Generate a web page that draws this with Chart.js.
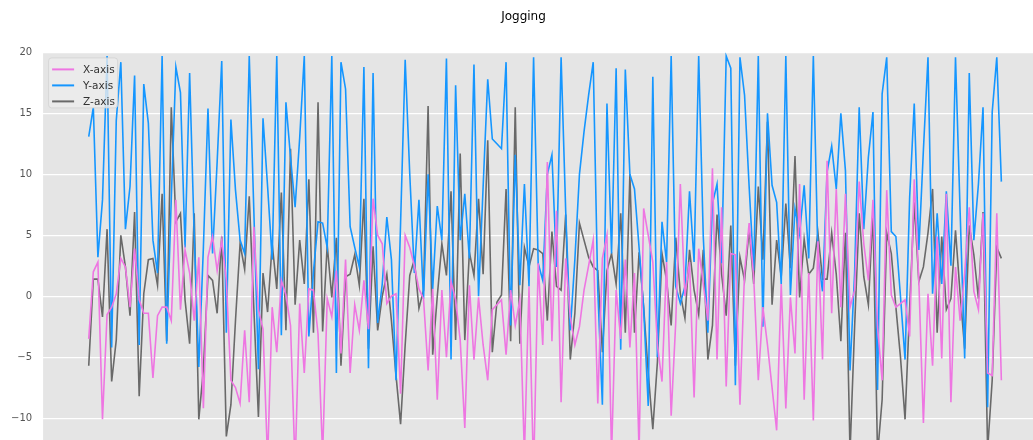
<!DOCTYPE html>
<html>
<head>
<meta charset="utf-8">
<title>Jogging</title>
<script src="https://cdn.jsdelivr.net/npm/chart.js@4.4.0/dist/chart.umd.min.js"></script>
<style>
  html, body { margin: 0; padding: 0; width: 1033px; height: 440px; overflow: hidden; background: #fff; }
  #wrap { position: relative; width: 1033px; height: 440px; overflow: hidden; }
  #wrap canvas { position: absolute; left: 0; top: 0; }
</style>
</head>
<body>
<div id="wrap"><canvas id="jogging" width="1060" height="560"></canvas></div>
<script>
// accelerometer samples, 200 readings per axis
const xAxis = [
  -3.5, 2.0, 2.8, -10.1, -1.5, -0.9, 0.2, 3.1, 2.4, -0.9,
  3.9, -0.3, -1.4, -1.4, -6.7, -1.6, -0.9, -0.9, -2.0, 7.9,
  -1.1, 3.8, 1.9, -2.0, 3.2, -9.2, 3.2, 4.9, 2.1, 4.6,
  1.3, -6.9, -7.5, -8.8, -2.8, -8.7, 5.7, -1.1, -2.7, -13.5,
  -0.9, -4.6, 1.3, 0.1, -2.4, -14.0, -0.6, -6.3, 0.6, 0.5,
  -3.1, -13.0, -0.2, -1.7, 2.1, -4.7, 3.0, -6.3, -0.7, -2.8,
  1.3, -2.7, 8.0, 5.0, 4.3, -0.6, 0.0, 0.2, -8.0, 5.0,
  4.0, 2.5, 0.6, -0.2, -6.1, 0.6, -8.5, 0.5, -5.0, 1.2,
  -0.3, -3.6, -10.8, 0.9, -5.2, -0.1, -4.0, -6.9, -1.1, -0.7,
  -0.3, -4.8, 0.5, -2.4, -0.3, -13.0, 0.8, -14.5, 2.7, -4.0,
  11.0, -3.7, 7.0, -8.7, 3.1, -1.7, -4.0, -2.5, 0.5, 2.5,
  4.6, -8.8, 3.1, 5.0, -13.0, 0.5, -3.5, 3.0, -4.2, 1.9,
  -12.8, 7.2, 5.0, 2.8, -4.0, -7.0, 2.8, -9.8, -2.1, 9.2,
  0.0, 2.8, -8.3, 3.9, 1.0, -2.0, 10.5, -5.2, 7.3, -7.4,
  3.5, 3.4, -8.9, 2.0, 6.0, 1.5, -6.9, -0.9, -4.0, -7.5,
  -11.0, 1.0, -9.2, -0.1, -4.7, 9.2, -8.5, 1.9, -10.2, 4.5,
  -5.2, 11.1, -1.4, 8.8, -0.9, 8.4, -0.9, 0.5, 9.4, 4.3,
  1.3, 7.9, -2.5, -6.9, 8.7, 0.1, -0.9, -0.6, -0.3, -3.3,
  9.6, 1.3, -10.4, 0.2, -5.7, 4.9, -5.1, 8.4, -8.7, 2.4,
  -2.0, 1.9, 7.3, 0.4, -1.1, 6.8, -6.3, -6.5, 6.8, -6.9
];
const yAxis = [
  13.1, 15.5, 3.2, 7.9, 19.7, -4.2, 14.4, 19.2, 5.5, 9.0,
  18.1, -4.0, 17.4, 14.2, 4.6, 1.9, 19.7, -3.9, 8.0, 18.8,
  16.7, 4.0, 18.3, 5.0, -5.8, 4.0, 15.4, 3.5, 11.0, 19.3,
  -3.0, 14.5, 8.7, 4.6, 3.5, 19.7, 7.0, -6.0, 14.6, 9.0,
  3.0, 19.7, -3.2, 15.9, 11.4, 7.3, 13.0, 19.7, -3.3, 2.0,
  6.1, 6.0, 4.0, 19.7, -6.3, 19.2, 17.0, 5.7, 4.0, 2.4,
  18.8, -5.9, 18.3, -2.2, 1.0, 6.5, 3.0, -6.9, 6.0, 19.4,
  10.0, 1.9, 7.9, -0.2, 10.0, 0.6, 7.4, 4.6, 19.5, -5.2,
  17.3, 4.6, 8.4, 3.1, 19.0, 0.0, 9.0, 17.8, 12.9, 12.5,
  12.1, 19.2, -2.4, 11.6, 0.9, 9.2, 0.8, 19.6, 2.7, 1.3,
  10.0, 11.6, 2.4, 19.6, 7.0, -2.8, 3.0, 10.0, 13.5, 16.5,
  19.2, 0.5, -8.9, 15.8, 3.5, 18.7, -4.4, 18.6, 10.0, 8.8,
  4.0, -1.0, -9.0, 18.0, -5.0, 6.1, 2.8, 19.7, 0.8, -0.6,
  0.8, 8.6, 2.8, 19.7, 4.9, -3.0, 7.6, 9.2, 2.7, 19.7,
  18.7, -7.3, 19.6, 16.5, 9.0, 2.1, 19.7, -2.5, 15.0, 9.1,
  7.7, 1.0, 19.7, 0.1, 7.2, 5.1, 9.1, 3.1, 19.7, 3.2,
  0.4, 10.2, 12.3, 8.8, 15.0, 10.3, -6.1, 1.9, 15.5, 5.5,
  11.4, 15.1, -7.7, 16.6, 19.6, 5.3, 4.9, 0.0, -5.2, 8.1,
  15.8, 3.8, 12.0, 19.6, 0.2, 6.8, 1.0, 8.6, 2.5, 19.6,
  7.0, -5.1, 18.3, 4.6, 9.2, 15.5, -9.1, 15.1, 19.6, 9.4
];
const zAxis = [
  -5.7, 1.4, 1.4, -1.7, 5.5, -7.0, -3.6, 5.0, 2.4, -1.6,
  6.9, -8.2, 0.2, 3.0, 3.1, 0.9, 8.4, -3.7, 15.5, 6.1,
  6.8, -0.3, -3.9, 6.8, -10.1, -6.0, 1.7, 1.3, -1.4, 4.9,
  -11.5, -8.9, -2.0, 4.3, 2.2, 8.2, -1.0, -9.9, 1.9, -1.3,
  4.3, 0.6, 8.5, -2.8, 12.1, -0.7, 4.6, 1.0, 9.6, -3.0,
  15.9, -2.9, 4.2, -0.1, 4.8, -5.7, 1.6, 1.8, 3.4, 0.9,
  8.0, -4.3, 4.1, -2.8, 0.0, 1.8, -2.0, -6.5, -10.5, -4.0,
  1.7, 3.0, -1.0, 0.5, 15.6, -4.8, 0.0, 4.3, 1.7, 8.6,
  -3.6, 11.7, -3.6, 3.6, 1.7, 8.0, 1.8, 12.8, -4.6, -0.5,
  0.1, 8.8, -3.7, 15.5, -3.9, 4.0, 2.4, 3.9, 3.8, 3.5,
  -2.0, 5.3, 0.8, 0.5, 6.7, -5.2, -1.4, 6.0, 4.6, 3.2,
  2.4, 2.1, -4.6, 2.1, 3.5, 1.0, 6.8, -3.0, 10.0, -3.0,
  3.6, -0.9, -6.3, -10.9, -5.4, 3.5, 1.3, -2.4, 4.8, 0.2,
  -1.8, 3.8, 0.5, -1.5, 3.8, -5.2, -2.4, 6.7, 1.8, -1.6,
  5.8, -5.7, 3.2, 1.3, 5.5, 1.0, 9.0, 3.0, 14.3, -0.7,
  4.6, 1.6, 7.6, 2.3, 11.5, -0.1, 4.7, 1.8, 2.3, 5.2,
  1.4, 1.4, 5.2, 1.8, -3.7, 5.2, -12.8, -2.5, 6.8, 1.6,
  -0.7, 6.9, -13.0, -8.5, 5.2, 3.5, -0.9, -5.0, -10.1, -1.0,
  7.7, 1.2, 2.4, 5.2, 8.8, -3.0, 4.9, -1.1, -0.2, 5.4,
  0.2, -4.3, 5.8, 3.4, -0.2, 6.9, -12.6, -6.9, 4.0, 3.1
];
const sampleIndex = xAxis.map((v, i) => i);
const yTicks = [-20, -15, -10, -5, 0, 5, 10, 15, 20];

function toPoints(values) {
  return values.map((v, i) => ({ x: sampleIndex[i], y: v }));
}

// grey panel behind the plot, like the ggplot style
const panelBackground = {
  id: 'panelBackground',
  beforeDraw(chart) {
    const a = chart.chartArea;
    const ctx = chart.ctx;
    ctx.save();
    ctx.fillStyle = '#E5E5E5';
    ctx.fillRect(a.left, a.top, a.right - a.left, a.bottom - a.top);
    ctx.restore();
  }
};

// legend box in the upper left corner of the plot
const boxLegend = {
  id: 'boxLegend',
  afterDraw(chart) {
    const ctx = chart.ctx;
    const a = chart.chartArea;
    const x = a.left + 5, y = a.top + 5;
    const w = 69, h = 50;
    ctx.save();
    ctx.beginPath();
    ctx.roundRect(x + 0.5, y + 0.5, w, h, 3);
    ctx.fillStyle = 'rgba(236,236,236,0.8)';
    ctx.fill();
    ctx.strokeStyle = 'rgba(210,210,210,0.8)';
    ctx.lineWidth = 1;
    ctx.stroke();
    ctx.font = '10.5px "DejaVu Sans"';
    ctx.textBaseline = 'middle';
    chart.data.datasets.forEach((ds, i) => {
      const ly = y + 12 + i * 16;
      ctx.beginPath();
      ctx.moveTo(x + 4, ly);
      ctx.lineTo(x + 26, ly);
      ctx.strokeStyle = ds.borderColor;
      ctx.lineWidth = 2;
      ctx.stroke();
      ctx.fillStyle = '#333333';
      ctx.fillText(ds.label, x + 35, ly + 0.5);
    });
    ctx.restore();
  }
};

const ctx = document.getElementById('jogging').getContext('2d');
const chart = new Chart(ctx, {
  type: 'line',
  data: {
    datasets: [{
      label: 'X-axis',
      data: toPoints(xAxis),
      borderColor: '#EE76E2',
      borderWidth: 1.6
    }, {
      label: 'Y-axis',
      data: toPoints(yAxis),
      borderColor: '#1596FF',
      borderWidth: 1.6
    }, {
      label: 'Z-axis',
      data: toPoints(zAxis),
      borderColor: '#696969',
      borderWidth: 1.6
    }]
  },
  options: {
    responsive: false,
    animation: false,
    events: [],
    layout: {
      padding: { left: 0, right: 13, top: 0, bottom: 20 }
    },
    elements: {
      point: { radius: 0 },
      line: { tension: 0 }
    },
    plugins: {
      legend: { display: false },
      tooltip: { enabled: false },
      title: {
        display: true,
        text: 'Jogging',
        color: '#000000',
        font: { family: 'DejaVu Sans', size: 12, weight: 'normal' },
        padding: { top: 10, bottom: 28 }
      }
    },
    scales: {
      x: {
        type: 'linear',
        display: false,
        min: -9.95,
        max: 208.95
      },
      y: {
        min: -20,
        max: 20,
        afterBuildTicks: axis => { axis.ticks = yTicks.map(v => ({ value: v })); },
        ticks: {
          padding: 11,
          color: '#555555',
          font: { family: 'DejaVu Sans', size: 10 },
          callback: v => String(v).replace('-', '\u2212')
        },
        grid: { color: '#FFFFFF', lineWidth: 1.2, drawTicks: false },
        border: { display: false }
      }
    }
  },
  plugins: [panelBackground, boxLegend]
});
</script>
</body>
</html>
